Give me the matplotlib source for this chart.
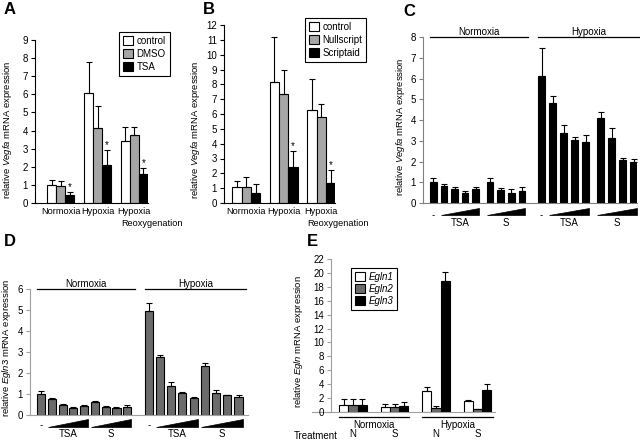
import numpy as np
import matplotlib
matplotlib.use("Agg")
from matplotlib import pyplot as plt
from matplotlib.patches import Patch, Polygon

plt.rcParams['font.family'] = ['Liberation Sans', 'DejaVu Sans']
plt.rcParams['font.size'] = 7
plt.rcParams['mathtext.fontset'] = 'custom'
plt.rcParams['mathtext.rm'] = 'Liberation Sans'
plt.rcParams['mathtext.it'] = 'Liberation Sans:italic'

# ---- panel A: Vegfa, TSA ----
a_groups = ["Normoxia", "Hypoxia", "Hypoxia"]
a_sub = "Reoxygenation"
a_series = ["control", "DMSO", "TSA"]
a_control = [1.0, 6.1, 3.4]
a_control_err = [0.25, 1.7, 0.8]
a_dmso = [0.95, 4.15, 3.75]
a_dmso_err = [0.25, 1.2, 0.45]
a_tsa = [0.45, 2.1, 1.6]
a_tsa_err = [0.15, 0.8, 0.35]
a_star = [True, True, True]

# ---- panel B: Vegfa, Scriptaid ----
b_groups = ["Normoxia", "Hypoxia", "Hypoxia"]
b_sub = "Reoxygenation"
b_series = ["control", "Nullscript", "Scriptaid"]
b_control = [1.05, 8.15, 6.3]
b_control_err = [0.4, 3.05, 2.05]
b_null = [1.1, 7.35, 5.8]
b_null_err = [0.65, 1.6, 0.85]
b_script = [0.7, 2.45, 1.35]
b_script_err = [0.55, 1.05, 0.85]
b_star = [False, True, True]

# ---- panel C: Vegfa dose series ----
c_norm = [1.0, 0.82, 0.68, 0.47, 0.68, 1.0, 0.65, 0.5, 0.57]
c_norm_err = [0.22, 0.1, 0.09, 0.13, 0.08, 0.2, 0.09, 0.17, 0.18]
c_hyp = [6.1, 4.8, 3.37, 3.02, 2.96, 4.12, 3.15, 2.08, 1.98]
c_hyp_err = [1.38, 0.35, 0.4, 0.15, 0.3, 0.27, 0.45, 0.08, 0.15]

# ---- panel D: Egln3 dose series ----
d_norm = [1.0, 0.77, 0.48, 0.33, 0.42, 0.64, 0.4, 0.35, 0.4]
d_norm_err = [0.12, 0.03, 0.03, 0.05, 0.06, 0.03, 0.04, 0.02, 0.06]
d_hyp = [4.97, 2.75, 1.38, 1.07, 0.83, 2.35, 1.05, 0.93, 0.88]
d_hyp_err = [0.38, 0.13, 0.2, 0.03, 0.04, 0.13, 0.15, 0.04, 0.08]

# ---- panel E: Egln1-3 ----
e_oxygen = ["Normoxia", "Hypoxia"]
e_treat = ["N", "S", "N", "S"]
e_series = ["Egln1", "Egln2", "Egln3"]
e_egln1 = [1.07, 0.74, 3.07, 1.53]
e_egln1_err = [0.8, 0.42, 0.53, 0.24]
e_egln2 = [1.07, 0.7, 0.6, 0.37]
e_egln2_err = [0.8, 0.4, 0.24, 0.1]
e_egln3 = [1.07, 0.93, 18.8, 3.16]
e_egln3_err = [0.8, 0.51, 1.4, 0.84]

W, H = 640, 443
fig = plt.figure(figsize=(W / 100, H / 100), dpi=100)


def px_axes(left, right, top, bottom):
    return fig.add_axes([left / W, 1 - bottom / H, (right - left) / W, (bottom - top) / H])


def style(ax, color="black"):
    for s in ["top", "right"]:
        ax.spines[s].set_visible(False)
    ax.spines["left"].set_color(color)
    ax.spines["bottom"].set_color(color)
    ax.spines["left"].set_linewidth(0.8)
    ax.spines["bottom"].set_linewidth(0.8)
    ax.tick_params(axis="y", length=3, width=0.8, color=color, pad=2, labelsize=7)
    ax.tick_params(axis="x", length=0, pad=3, labelsize=6.6)


def bars(ax, x, vals, errs, color, width):
    ax.bar(x, vals, width, color=color, edgecolor="black", linewidth=0.8, zorder=2)
    ax.errorbar(x, vals, yerr=[np.zeros(len(vals)), errs], fmt="none", ecolor="black",
                elinewidth=0.8, capsize=2, capthick=0.8, zorder=3)


def label(ax, x_px, text, y_px, axbox):
    left, right, top, bottom = axbox
    ax.set_ylabel(text, fontsize=6.8)
    ax.yaxis.set_label_coords((x_px - left) / (right - left), (bottom - y_px) / (bottom - top))


def legend(names, colors, box, italic=False, spacing=0.3):
    handles = [Patch(facecolor=c, edgecolor="black", linewidth=0.8) for c in colors]
    lg = fig.legend(handles, names, loc="upper left",
                    bbox_to_anchor=(box[0] / W, 1 - box[1] / H), frameon=True,
                    fancybox=False, edgecolor="black", framealpha=1, fontsize=7,
                    handlelength=1.0, handleheight=1.0, handletextpad=0.4,
                    labelspacing=spacing, borderpad=0.4, borderaxespad=0)
    lg.get_frame().set_linewidth(0.8)
    if italic:
        for t in lg.get_texts():
            t.set_fontstyle("italic")
    return lg


def grouped(ax, series, errs, colors, width, stars=None):
    n = len(series)
    for i in range(n):
        x = np.arange(len(series[i])) + (i - (n - 1) / 2) * width
        bars(ax, x, series[i], errs[i], colors[i], width)
        if stars is not None and i == n - 1:
            for xi, v, e, s in zip(x, series[i], errs[i], stars):
                if s:
                    ax.text(xi, v + e, "*", ha="center", va="bottom", fontsize=7)


def panel_letter(x, y, s):
    fig.text(x / W, 1 - y / H, s, fontsize=12, fontweight="bold", ha="left", va="center")


def sub_label(ax, idx, text, shift, y_px, box):
    hpx = box[3] - box[2]
    ax.text(idx - shift, -y_px / hpx, text, ha="left", va="center",
            transform=ax.get_xaxis_transform(), fontsize=6.6)


# ---------- A ----------
boxA = (35, 148, 40, 203)
axA = px_axes(*boxA)
grouped(axA, [a_control, a_dmso, a_tsa], [a_control_err, a_dmso_err, a_tsa_err],
        ["white", "#a6a6a6", "black"], 0.245, a_star)
axA.set_xlim(-0.707, 2.37)
axA.set_ylim(0, 9)
axA.set_yticks(range(0, 10))
axA.set_xticks(range(3))
axA.set_xticklabels(a_groups)
style(axA)
sub_label(axA, 2, a_sub, 0.36, 20, boxA)
label(axA, 14, "relative $\\it{Vegfa}$ mRNA expression", 130, boxA)
legend(a_series, ["white", "#a6a6a6", "black"], (119, 32))
panel_letter(4, 10, "A")

# ---------- B ----------
boxB = (224, 335, 25, 203)
axB = px_axes(*boxB)
grouped(axB, [b_control, b_null, b_script], [b_control_err, b_null_err, b_script_err],
        ["white", "#a6a6a6", "black"], 0.25, b_star)
axB.set_xlim(-0.6, 2.37)
axB.set_ylim(0, 12)
axB.set_yticks(range(0, 13))
axB.set_xticks(range(3))
axB.set_xticklabels(b_groups)
style(axB)
sub_label(axB, 2, b_sub, 0.36, 20, boxB)
label(axB, 202, "relative $\\it{Vegfa}$ mRNA expression", 130, boxB)
legend(b_series, ["white", "#a6a6a6", "black"], (305, 18))
panel_letter(203, 10, "B")


# ---------- dose panels ----------
def dose_panel(ax, norm, norm_err, hyp, hyp_err, pattern, hyp_off, hyp_scale, color,
               width, top_y, wedge_px, text_px, box):
    pos_n = np.array(pattern)
    pos_h = hyp_off + np.array(pattern) * hyp_scale
    bars(ax, pos_n, norm, norm_err, color, width)
    bars(ax, pos_h, hyp, hyp_err, color, width)
    trans = ax.get_xaxis_transform()
    hpx = box[3] - box[2]
    for pos, name in [(pos_n, "Normoxia"), (pos_h, "Hypoxia")]:
        x0, x1 = pos[0] - width / 2, pos[-1] + width / 2 + 0.3
        ax.plot([x0, x1], [top_y, top_y], color="black", lw=0.9, clip_on=False)
        ax.text((x0 + x1) / 2, top_y, name, ha="center", va="bottom", fontsize=7)
        ax.text(pos[0], -wedge_px[0] / hpx - 0.01, "-", ha="center", va="top",
                transform=trans, fontsize=7)
        for grp, name2 in [(pos[1:5], "TSA"), (pos[5:9], "S")]:
            gx0, gx1 = grp[0] - width / 2, grp[-1] + width / 2
            ya = -wedge_px[0] / hpx
            yb = -wedge_px[1] / hpx
            ax.add_patch(Polygon([[gx0, yb], [gx1, yb], [gx1, ya]], closed=True,
                                 facecolor="black", edgecolor="black", lw=0.5,
                                 transform=trans, clip_on=False))
            ax.text((gx0 + gx1) / 2, -text_px / hpx, name2, ha="center", va="center",
                    transform=trans, fontsize=7)


# ---------- C ----------
boxC = (423, 637, 37, 203)
axC = px_axes(*boxC)
c_pattern = [0, 1, 2, 3, 4, 5.35, 6.35, 7.35, 8.35]
dose_panel(axC, c_norm, c_norm_err, c_hyp, c_hyp_err, c_pattern, 10.2, 1.04, "black",
           0.63, 8, (5, 12), 20, boxC)
axC.set_xlim(-0.97, 19.2)
axC.set_ylim(0, 8)
axC.set_yticks(range(0, 9))
axC.set_xticks([])
style(axC, "#808080")
label(axC, 407, "relative $\\it{Vegfa}$ mRNA expression", 127, boxC)
panel_letter(403, 12, "C")

# ---------- D ----------
boxD = (30, 248, 289, 415)
axD = px_axes(*boxD)
d_pattern = [0, 1, 2, 3, 4, 5, 6, 7, 8]
dose_panel(axD, d_norm, d_norm_err, d_hyp, d_hyp_err, d_pattern, 10, 1.04, "#6b6b6b",
           0.75, 6, (4, 12), 19, boxD)
axD.set_xlim(-1.02, 19.2)
axD.set_ylim(0, 6)
axD.set_yticks(range(0, 7))
axD.set_xticks([])
style(axD, "#a0a0a0")
label(axD, 13, "relative $\\it{Egln3}$ mRNA expression", 348, boxD)
panel_letter(4, 242, "D")

# ---------- E ----------
boxE = (331, 495, 259, 412)
axE = px_axes(*boxE)
grouped(axE, [e_egln1, e_egln2, e_egln3], [e_egln1_err, e_egln2_err, e_egln3_err],
        ["white", "#6b6b6b", "black"], 0.22)
axE.set_xlim(-0.53, 3.42)
axE.set_ylim(0, 22)
axE.set_yticks(range(0, 23, 2))
axE.set_xticks(range(4))
axE.set_xticklabels(e_treat)
style(axE, "#a0a0a0")
axE.tick_params(axis="x", pad=12.5, labelsize=7)
axE.plot([-19 / 164, 0], [0, 0], transform=axE.transAxes, color="#a0a0a0", lw=0.8,
         clip_on=False, zorder=0)
label(axE, 305, "relative $\\it{Egln}$ mRNA expression", 342, boxE)
transE = axE.get_xaxis_transform()
hE = boxE[3] - boxE[2]
for k, name in enumerate(e_oxygen):
    x0, x1 = 2 * k - 0.33, 2 * k + 1 + 0.36
    axE.plot([x0, x1], [-5 / hE, -5 / hE], color="black", lw=0.9, transform=transE,
             clip_on=False)
    axE.text((x0 + x1) / 2, -13 / hE, name, ha="center", va="center", transform=transE,
             fontsize=7)
fig.text(338 / W, 1 - 436 / H, "Treatment", ha="right", va="center", fontsize=7)
legend(e_series, ["white", "#6b6b6b", "black"], (351, 268), italic=True, spacing=0.2)
panel_letter(307, 242, "E")

fig.savefig("out.png", dpi=100)
